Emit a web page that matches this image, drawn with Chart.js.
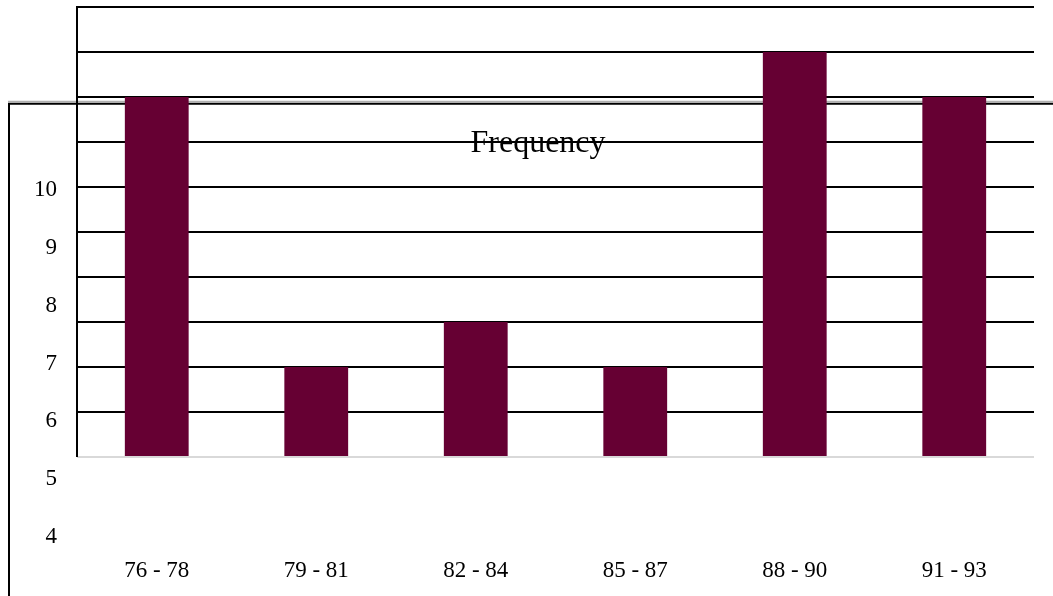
<!DOCTYPE html>
<html>
<head>
<meta charset="utf-8">
<script src="https://cdn.jsdelivr.net/npm/chart.js@4.4.1/dist/chart.umd.min.js"></script>
<style>
  html, body { margin: 0; padding: 0; background: #fff; }
  #wrap { width: 1053px; height: 596px; }
</style>
</head>
<body>
<div id="wrap"><canvas id="c" width="1053" height="596"></canvas></div>
<script>
// Score ranges and how many results fall in each
const categories = ['76 - 78', '79 - 81', '82 - 84', '85 - 87', '88 - 90', '91 - 93'];
const frequency = [8, 2, 3, 2, 9, 8];
// Labels printed down the left side of the frame
const sideLabels = [4, 5, 6, 7, 8, 9, 10];
const seriesTitle = 'Frequency';

const serif = '"Liberation Serif", "Times New Roman", serif';

// Outer frame drawn behind everything, plot frame and title drawn on top
const framePlugin = {
  id: 'frames',
  beforeDraw(chart) {
    const { ctx } = chart;
    const y = chart.scales.y;
    const top = y.getPixelForValue(7.85);
    ctx.save();
    ctx.fillStyle = '#fff';
    ctx.fillRect(0, 0, chart.width, chart.height);
    ctx.strokeStyle = '#b0b0b0';
    ctx.lineWidth = 1.5;
    ctx.beginPath();
    ctx.moveTo(8, top - 2.2);
    ctx.lineTo(chart.width, top - 2.2);
    ctx.stroke();
    ctx.strokeStyle = '#000';
    ctx.lineWidth = 2;
    ctx.beginPath();
    ctx.moveTo(9, chart.height);
    ctx.lineTo(9, top);
    ctx.lineTo(chart.width, top);
    ctx.stroke();
    ctx.restore();
  },
  afterDatasetsDraw(chart) {
    const { ctx, chartArea } = chart;
    const y = chart.scales.y;
    ctx.save();
    ctx.strokeStyle = '#000';
    ctx.lineWidth = 2;
    ctx.beginPath();
    ctx.moveTo(chartArea.left, y.getPixelForValue(0));
    ctx.lineTo(chartArea.left, y.getPixelForValue(10) - 1);
    ctx.stroke();
    ctx.fillStyle = '#000';
    ctx.font = '32px ' + serif;
    ctx.textAlign = 'center';
    ctx.textBaseline = 'alphabetic';
    ctx.fillText(seriesTitle, 538, 152);
    ctx.restore();
  }
};

function noEdgePadding(scale) {
  scale.paddingTop = 0;
  scale.paddingBottom = 0;
}

new Chart(document.getElementById('c'), {
  type: 'bar',
  data: {
    labels: categories,
    datasets: [{
      label: seriesTitle,
      data: frequency,
      backgroundColor: '#660033',
      borderWidth: 0,
      barPercentage: 0.4,
      categoryPercentage: 1.0
    }]
  },
  options: {
    responsive: false,
    animation: false,
    layout: { padding: { left: 0, right: 19, top: 7, bottom: 0 } },
    plugins: {
      legend: { display: false },
      tooltip: { enabled: false },
      title: { display: false }
    },
    scales: {
      x: {
        grid: { display: false, drawTicks: false },
        border: { display: false },
        ticks: {
          color: '#000',
          padding: 10,
          font: { family: serif, size: 23 }
        },
        afterFit(scale) { scale.height = 49; scale.paddingLeft = 0; scale.paddingRight = 0; }
      },
      y: {
        position: 'left',
        min: -2,
        max: 10,
        ticks: { display: false, stepSize: 1 },
        border: { display: false },
        grid: {
          drawTicks: false,
          lineWidth: 2,
          color(ctx) {
            const v = ctx.tick ? ctx.tick.value : 0;
            if (v > 0) return '#000';
            if (v === 0) return '#d9d9d9';
            return 'rgba(0,0,0,0)';
          }
        },
        afterFit(scale) { scale.width = 0; noEdgePadding(scale); }
      },
      side: {
        position: 'left',
        min: 3.827,
        max: 13.164,
        grid: { display: false, drawTicks: false },
        border: { display: false },
        afterBuildTicks(scale) {
          scale.ticks = sideLabels.map(v => ({ value: v }));
        },
        ticks: {
          color: '#000',
          padding: 20,
          font: { family: serif, size: 23 },
          callback: v => String(v)
        },
        afterFit(scale) { scale.width = 77; noEdgePadding(scale); }
      }
    }
  },
  plugins: [framePlugin]
});
</script>
</body>
</html>
